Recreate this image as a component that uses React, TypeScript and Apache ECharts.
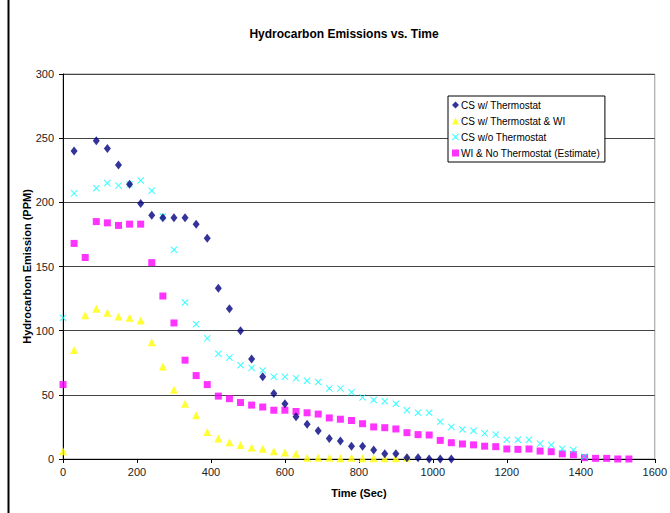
import React, { useEffect, useRef } from "react";
import * as echarts from "echarts";

const xTicks = [0, 200, 400, 600, 800, 1000, 1200, 1400, 1600];
const yTicks = [0, 50, 100, 150, 200, 250, 300];

const csThermoX = [30, 90, 120, 150, 180, 210, 240, 270, 300, 330, 360, 390, 420, 450, 480, 510, 540, 570, 600, 630, 660, 690, 720, 750, 780, 810, 840, 870, 900, 930, 960, 990, 1020, 1050];
const csThermoY = [240, 248, 242, 229, 214, 199, 190, 188, 188, 188, 183, 172, 133, 117, 100, 78, 64, 51, 43, 33, 27, 22, 16, 14, 10, 10, 7, 4, 4, 1, 1, 0, 0, 0];

const csThermoWIX = [0, 30, 60, 90, 120, 150, 180, 210, 240, 270, 300, 330, 360, 390, 420, 450, 480, 510, 540, 570, 600, 630, 660, 690, 720, 750, 780, 810, 840, 870, 900, 930];
const csThermoWIY = [6, 85, 112, 117, 114, 111, 110, 108, 91, 72, 54, 43, 34, 21, 16, 13, 11, 9, 8, 6, 5, 4, 1, 1, 1, 0.6, 1, 0.5, 0.5, 0.5, 0.5, 1];

const csNoThermoX = [0, 30, 90, 120, 150, 180, 210, 240, 270, 300, 330, 360, 390, 420, 450, 480, 510, 540, 570, 600, 630, 660, 690, 720, 750, 780, 810, 840, 870, 900, 930, 960, 990, 1020, 1050, 1080, 1110, 1140, 1170, 1200, 1230, 1260, 1290, 1320, 1350, 1380, 1410];
const csNoThermoY = [110, 207, 211, 215, 213, 214, 217, 209, 189, 163, 122, 105, 94, 82, 79, 73, 71, 69, 64, 64, 63, 61, 60, 55, 55, 52, 48, 46, 45, 43, 38, 36, 36, 29, 25, 23, 22, 20, 19, 15, 15, 15, 12, 11, 8, 7, 2];

const wiNoThermoX = [0, 30, 60, 90, 120, 150, 180, 210, 240, 270, 300, 330, 360, 390, 420, 450, 480, 510, 540, 570, 600, 630, 660, 690, 720, 750, 780, 810, 840, 870, 900, 930, 960, 990, 1020, 1050, 1080, 1110, 1140, 1170, 1200, 1230, 1260, 1290, 1320, 1350, 1380, 1410, 1440, 1470, 1500, 1530];
const wiNoThermoY = [58, 168, 157, 185, 184, 182, 183, 183, 153, 127, 106, 77, 65, 58, 49, 47, 44, 42, 40.5, 38, 38, 37, 36, 35, 32, 31, 30, 27.5, 25, 24.4, 23.4, 20.5, 19, 18.7, 14.5, 12.7, 11.7, 11, 10, 9.6, 7.8, 7.5, 7.8, 6.2, 5.7, 4, 3.4, 1, 0.5, 0.5, 0, 0];

const seriesNames = [
  "CS w/ Thermostat",
  "CS w/ Thermostat & WI",
  "CS w/o Thermostat",
  "WI & No Thermostat (Estimate)",
];

const crossPath =
  "path://M0,1L1,0L5,4L9,0L10,1L6,5L10,9L9,10L5,6L1,10L0,9L4,5Z";

const zip = (xs: number[], ys: number[]) => xs.map((x, i) => [x, ys[i]]);

export default function App() {
  const ref = useRef<HTMLDivElement>(null);
  useEffect(() => {
    if (!ref.current) return;
    const chart = echarts.init(ref.current, null, { renderer: "svg" });
    const font = "'Liberation Sans', Arial, sans-serif";
    chart.setOption({
      animation: false,
      backgroundColor: "#ffffff",
      textStyle: { fontFamily: font },
      graphic: [
        {
          type: "line",
          shape: { x1: 8.5, y1: 0, x2: 8.5, y2: 513 },
          style: { stroke: "#000", lineWidth: 2 },
        },
        {
          type: "text",
          x: 344,
          y: 34,
          style: {
            text: "Hydrocarbon Emissions vs. Time",
            fontSize: 12,
            fontWeight: "bold",
            fontFamily: font,
            fill: "#000",
            align: "center",
            verticalAlign: "middle",
          },
        },
      ],
      grid: {
        left: 63,
        top: 74,
        width: 598,
        height: 385,
        show: true,
        borderColor: "#999",
        borderWidth: 1,
        backgroundColor: "transparent",
      },
      legend: {
        orient: "vertical",
        left: 448,
        top: 96,
        backgroundColor: "#fff",
        borderColor: "#000",
        borderWidth: 1,
        padding: [3, 5, 3, 4],
        itemWidth: 7,
        itemHeight: 7,
        itemGap: 4,
        textStyle: {
          fontSize: 10,
          lineHeight: 12,
          color: "#000",
          fontFamily: font,
          padding: [0, 0, 0, -3],
        },
        data: seriesNames,
      },
      xAxis: {
        type: "value",
        min: 0,
        max: 1600,
        interval: 200,
        name: "Time (Sec)",
        nameLocation: "middle",
        nameGap: 28,
        nameMoveOverlap: false,
        nameTextStyle: { fontSize: 11, fontWeight: "bold", color: "#000", fontFamily: font },
        axisLine: { show: true, lineStyle: { color: "#000", width: 1 } },
        axisTick: { show: true, length: 4, lineStyle: { color: "#000" } },
        axisLabel: {
          fontSize: 11,
          color: "#222",
          margin: 7,
          formatter: (v: number) => (xTicks.includes(v) ? String(v) : ""),
        },
        splitLine: { show: false },
      },
      yAxis: {
        type: "value",
        min: 0,
        max: 300,
        interval: 50,
        name: "Hydrocarbon Emission (PPM)",
        nameLocation: "middle",
        nameGap: 31,
        nameMoveOverlap: false,
        nameTextStyle: { fontSize: 11, fontWeight: "bold", color: "#000", fontFamily: font },
        axisLine: { show: true, lineStyle: { color: "#000", width: 1 } },
        axisTick: { show: true, length: 4, lineStyle: { color: "#000" } },
        axisLabel: {
          fontSize: 11,
          color: "#222",
          margin: 9,
          formatter: (v: number) => (yTicks.includes(v) ? String(v) : ""),
        },
        splitLine: { show: true, lineStyle: { color: "#444", width: 1 } },
      },
      series: [
        {
          name: seriesNames[0],
          type: "scatter",
          symbol: "diamond",
          symbolSize: [7, 9],
          itemStyle: { color: "#000080" },
          data: zip(csThermoX, csThermoY),
          z: 4,
        },
        {
          name: seriesNames[1],
          type: "scatter",
          symbol: "triangle",
          symbolSize: 8,
          itemStyle: { color: "#FFFF00" },
          data: zip(csThermoWIX, csThermoWIY),
          z: 3,
        },
        {
          name: seriesNames[2],
          type: "scatter",
          symbol: crossPath,
          symbolSize: 7,
          itemStyle: { color: "#00FFFF" },
          data: zip(csNoThermoX, csNoThermoY),
          z: 2,
        },
        {
          name: seriesNames[3],
          type: "scatter",
          symbol: "rect",
          symbolSize: 7,
          itemStyle: { color: "#FF00FF" },
          data: zip(wiNoThermoX, wiNoThermoY),
          z: 1,
        },
      ],
    });
    return () => chart.dispose();
  }, []);
  return (
    <div
      ref={ref}
      style={{ position: "fixed", left: 0, top: 0, width: 670, height: 513 }}
    />
  );
}
